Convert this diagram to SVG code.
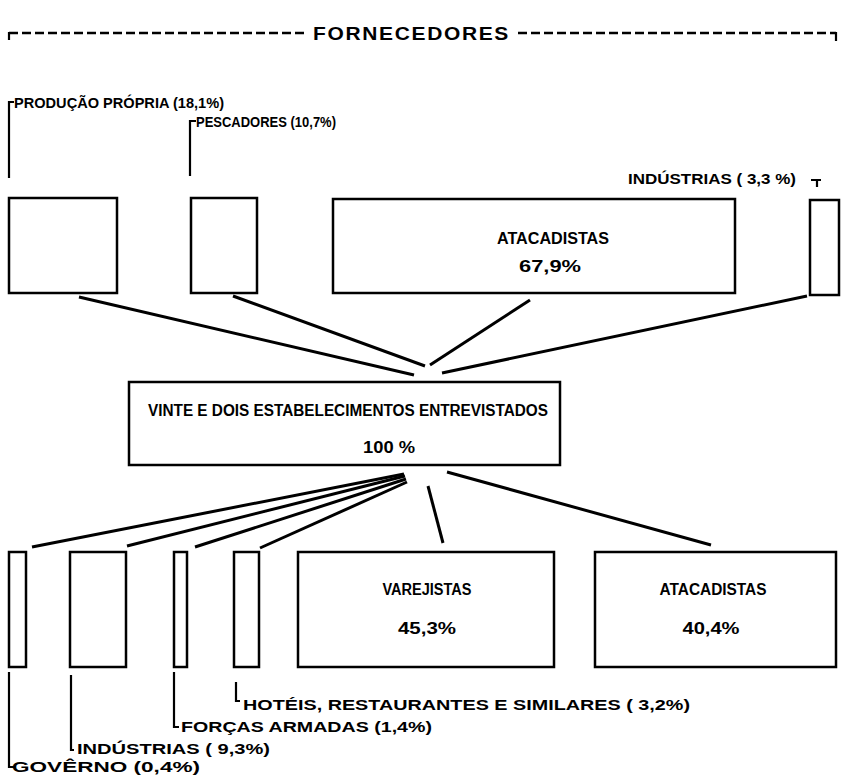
<svg xmlns="http://www.w3.org/2000/svg" width="844" height="776" viewBox="0 0 844 776">
<style>
  .bg { fill: #ffffff; }
  .box { fill: #ffffff; stroke: #000; stroke-width: 2.5; }
  .con { stroke: #000; stroke-width: 3; fill: none; stroke-linecap: butt; }
  .brk { stroke: #000; stroke-width: 2.2; fill: none; }
  .dash { stroke: #000; stroke-width: 2.5; fill: none; stroke-dasharray: 9 4; }
  text { font-family: "Liberation Sans", Arial, sans-serif; font-weight: bold; fill: #000; }
  .lbl { font-size: 15.5px; }
  .lbs { font-size: 15px; }
  .in { font-size: 16px; }
  .hdr { font-size: 19px; letter-spacing: 1.5px; }
</style>
<rect class="bg" x="0" y="0" width="844" height="776"/>

<g id="header">
  <path class="dash" d="M9 33 H305"/>
  <path class="brk" d="M9 32 V40"/>
  <text class="hdr" x="313" y="40" textLength="197" lengthAdjust="spacingAndGlyphs">FORNECEDORES</text>
  <path class="dash" d="M518 33 H836"/>
  <path class="brk" d="M836 32 V41"/>
</g>

<g id="connectors">
  <line class="con" x1="79" y1="297" x2="414" y2="375"/>
  <line class="con" x1="233" y1="296" x2="425" y2="366"/>
  <line class="con" x1="530" y1="300" x2="430" y2="365"/>
  <line class="con" x1="807" y1="296" x2="442" y2="373"/>

  <line class="con" x1="404" y1="474" x2="32" y2="547"/>
  <line class="con" x1="405" y1="476" x2="127" y2="546"/>
  <line class="con" x1="406" y1="479" x2="195" y2="547"/>
  <line class="con" x1="407" y1="482" x2="260" y2="548"/>
  <line class="con" x1="428" y1="486" x2="443" y2="543"/>
  <line class="con" x1="447" y1="472" x2="711" y2="545"/>
</g>

<g id="producao-propria">
  <rect class="box" x="9" y="198" width="108" height="95"/>
  <path class="brk" d="M14 102 H9 V178"/>
  <text class="lbl" x="14" y="108" textLength="210" lengthAdjust="spacingAndGlyphs">PRODUÇÃO PRÓPRIA (18,1%)</text>
</g>

<g id="pescadores">
  <rect class="box" x="191" y="198" width="66" height="95"/>
  <path class="brk" d="M196 121 H190 V176"/>
  <text class="lbl" x="196" y="127" textLength="140" lengthAdjust="spacingAndGlyphs">PESCADORES (10,7%)</text>
</g>

<g id="atacadistas-fornec">
  <rect class="box" x="333" y="199" width="402" height="94"/>
  <text class="in" x="553" y="244" text-anchor="middle" textLength="112" lengthAdjust="spacingAndGlyphs">ATACADISTAS</text>
  <text class="in" x="550" y="272" text-anchor="middle" textLength="62" lengthAdjust="spacingAndGlyphs">67,9%</text>
</g>

<g id="industrias-fornec">
  <rect class="box" x="810" y="200" width="29" height="95"/>
  <text class="lbl" x="628" y="184" textLength="168" lengthAdjust="spacingAndGlyphs">INDÚSTRIAS ( 3,3 %)</text>
  <path class="brk" d="M811 180 H821 M817 180 V187"/>
</g>

<g id="centro">
  <rect class="box" x="129" y="382" width="431" height="83"/>
  <text class="in" x="148" y="416" textLength="400" lengthAdjust="spacingAndGlyphs">VINTE E DOIS  ESTABELECIMENTOS  ENTREVISTADOS</text>
  <text class="in" x="389" y="453" text-anchor="middle" textLength="52" lengthAdjust="spacingAndGlyphs">100 %</text>
</g>

<g id="governo">
  <rect class="box" x="9" y="552" width="17" height="115"/>
  <path class="brk" d="M9 672 V767 H14"/>
  <text class="lbs" x="12" y="772" textLength="188" lengthAdjust="spacingAndGlyphs">GOVÊRNO (0,4%)</text>
</g>

<g id="industrias-cli">
  <rect class="box" x="70" y="552" width="56" height="115"/>
  <path class="brk" d="M71 675 V750 H74"/>
  <text class="lbs" x="77" y="754" textLength="193" lengthAdjust="spacingAndGlyphs">INDÚSTRIAS ( 9,3%)</text>
</g>

<g id="forcas-armadas">
  <rect class="box" x="174" y="552" width="13" height="115"/>
  <path class="brk" d="M174 672 V727 H179"/>
  <text class="lbs" x="181" y="732" textLength="251" lengthAdjust="spacingAndGlyphs">FORÇAS ARMADAS (1,4%)</text>
</g>

<g id="hoteis">
  <rect class="box" x="234" y="552" width="25" height="115"/>
  <path class="brk" d="M236 682 V701 H240"/>
  <text class="lbs" x="243" y="710" textLength="447" lengthAdjust="spacingAndGlyphs">HOTÉIS, RESTAURANTES E SIMILARES ( 3,2%)</text>
</g>

<g id="varejistas">
  <rect class="box" x="298" y="552" width="256" height="115"/>
  <text class="in" x="427" y="595" text-anchor="middle" textLength="89" lengthAdjust="spacingAndGlyphs">VAREJISTAS</text>
  <text class="in" x="427" y="634" text-anchor="middle" textLength="58" lengthAdjust="spacingAndGlyphs">45,3%</text>
</g>

<g id="atacadistas-cli">
  <rect class="box" x="595" y="552" width="241" height="115"/>
  <text class="in" x="713" y="595" text-anchor="middle" textLength="107" lengthAdjust="spacingAndGlyphs">ATACADISTAS</text>
  <text class="in" x="711" y="634" text-anchor="middle" textLength="57" lengthAdjust="spacingAndGlyphs">40,4%</text>
</g>
</svg>
